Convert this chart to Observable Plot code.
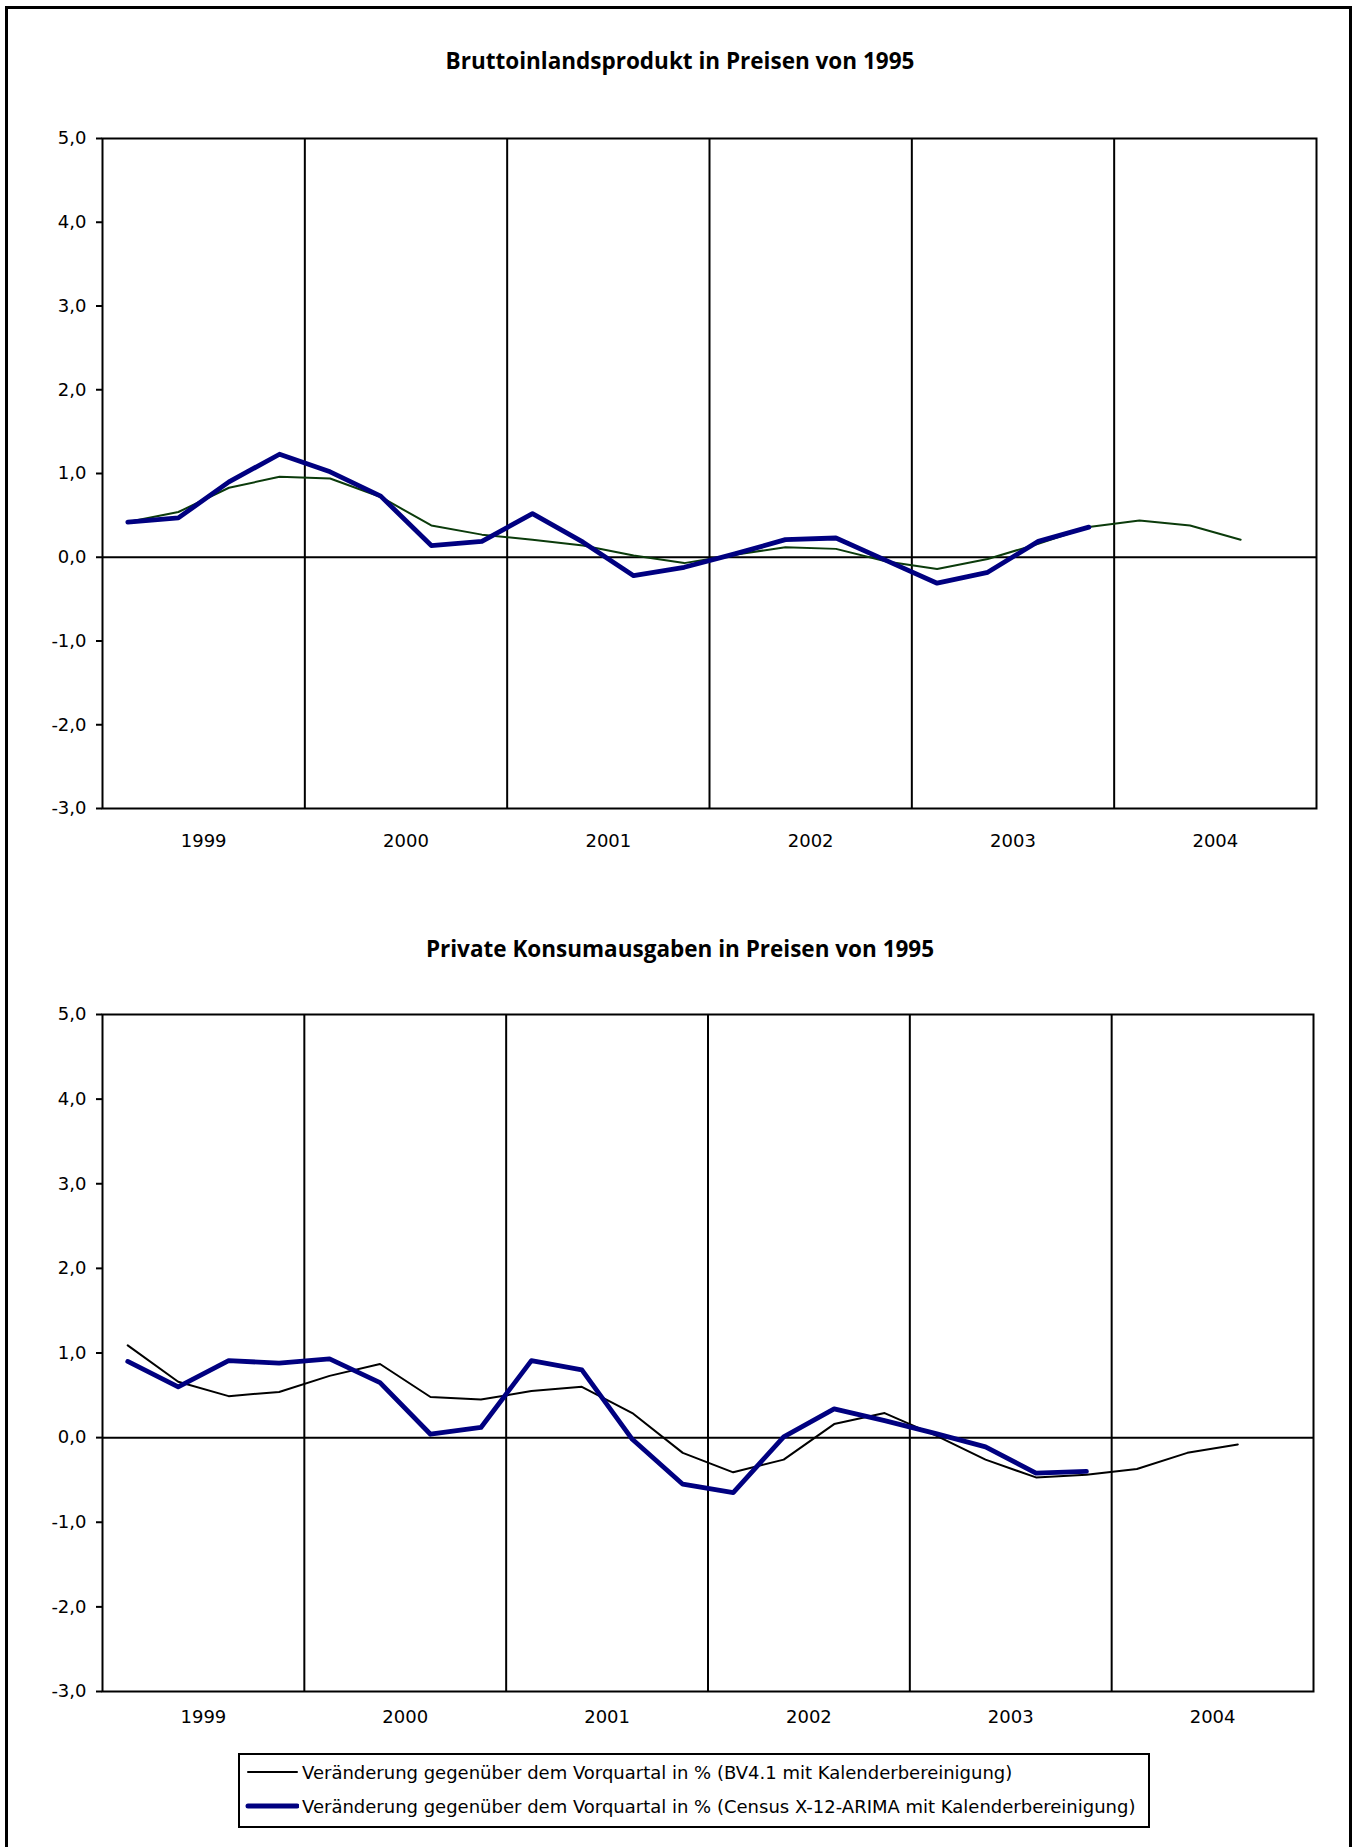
<!DOCTYPE html>
<html><head><meta charset="utf-8">
<script src="https://cdn.jsdelivr.net/npm/d3@7"></script>
<script src="https://cdn.jsdelivr.net/npm/@observablehq/plot@0.6"></script>
<style>
body{margin:0;background:#fff;}
#page{position:relative;width:1360px;height:1847px;overflow:hidden;background:#fff;}
#frame{position:absolute;left:5px;top:6px;width:1341px;height:1900px;border:3px solid #000;}
.title{position:absolute;left:0;width:1360px;text-align:center;font-family:"Open Sans";font-weight:bold;font-size:22.5px;line-height:26px;color:#000;}
.chart{position:absolute;left:0;}
.chart svg{color:#000;}
#legend{position:absolute;left:238px;top:1753px;width:908px;height:71px;border:2px solid #000;font-family:"DejaVu Sans";font-size:18px;color:#000;}
.row{position:absolute;left:5px;height:24px;display:flex;align-items:center;white-space:nowrap;}
.row svg{margin-right:3px;}
</style></head>
<body>
<div id="page">
  <div id="frame"></div>
  <div class="title" id="t1" style="top:48px;"></div>
  <div class="chart" id="c1" style="top:100px;"></div>
  <div class="title" id="t2" style="top:936px;"></div>
  <div class="chart" id="c2" style="top:980px;"></div>
  <div id="legend"></div>
</div>
<script>
// ---- data ----
const years = [1999, 2000, 2001, 2002, 2003, 2004];
const quarterNames = ["Q1", "Q2", "Q3", "Q4"];
const yTicks = [-3, -2, -1, 0, 1, 2, 3, 4, 5];
const titleBIP = "Bruttoinlandsprodukt in Preisen von 1995";
const titlePK = "Private Konsumausgaben in Preisen von 1995";
const seriesNames = [
  "Veränderung gegenüber dem Vorquartal in % (BV4.1 mit Kalenderbereinigung)",
  "Veränderung gegenüber dem Vorquartal in % (Census X-12-ARIMA mit Kalenderbereinigung)"
];
// Bruttoinlandsprodukt, quarters from 1999 Q1
const bipBV41 = [0.42, 0.54, 0.83, 0.96, 0.94, 0.72, 0.38, 0.27, 0.21, 0.14, 0.02, -0.07,
                 0.03, 0.12, 0.10, -0.05, -0.14, -0.02, 0.16, 0.36, 0.44, 0.38, 0.21];
const bipX12  = [0.42, 0.47, 0.90, 1.23, 1.02, 0.73, 0.14, 0.19, 0.52, 0.18, -0.22, -0.12,
                 0.04, 0.21, 0.23, -0.04, -0.31, -0.18, 0.19, 0.36];
// Private Konsumausgaben, quarters from 1999 Q1
const pkBV41 = [1.09, 0.66, 0.49, 0.54, 0.73, 0.87, 0.48, 0.45, 0.55, 0.60, 0.29, -0.18,
                -0.41, -0.26, 0.16, 0.29, 0.03, -0.26, -0.47, -0.44, -0.37, -0.18, -0.08];
const pkX12  = [0.90, 0.60, 0.91, 0.88, 0.93, 0.65, 0.04, 0.12, 0.91, 0.80, -0.02, -0.55,
                -0.65, 0.01, 0.34, 0.20, 0.05, -0.11, -0.42, -0.40];

const colorBlue = "#000080";

function toSeries(values) {
  return values.map((v, i) => ({
    t: years[0] + Math.floor(i / 4) + (i % 4 + 0.5) / 4,
    q: years[0] + Math.floor(i / 4) + " " + quarterNames[i % 4],
    v
  }));
}

function chart({bv, x12, bvColor, height, marginTop, marginBottom, marginRight, xPad}) {
  return Plot.plot({
    width: 1360, height, marginLeft: 102, marginRight, marginTop, marginBottom,
    style: {fontFamily: "DejaVu Sans", fontSize: "18px", color: "#000", background: "transparent"},
    x: {domain: [years[0], years[years.length - 1] + 1]},
    y: {domain: [yTicks[0], yTicks[yTicks.length - 1]]},
    marks: [
      Plot.ruleX(years.slice(1), {stroke: "#000", strokeWidth: 2}),
      Plot.ruleY([0], {stroke: "#000", strokeWidth: 2}),
      Plot.line(toSeries(bv), {x: "t", y: "v", stroke: bvColor, strokeWidth: 2}),
      Plot.line(toSeries(x12), {x: "t", y: "v", stroke: colorBlue, strokeWidth: 4.8}),
      Plot.frame({stroke: "#000", strokeWidth: 2}),
      Plot.axisY(yTicks, {tickSize: 6, tickPadding: 10, strokeWidth: 2, fontSize: 18,
        tickFormat: d => d.toFixed(1).replace(".", ","), label: null}),
      Plot.axisX(years.map(y => y + 0.5), {tickSize: 0, tickPadding: xPad, fontSize: 18,
        tickFormat: d => String(Math.floor(d)), label: null})
    ]
  });
}

document.getElementById("t1").textContent = titleBIP;
document.getElementById("t2").textContent = titlePK;

document.getElementById("c1").appendChild(chart({
  bv: bipBV41, x12: bipX12, bvColor: "#0b3b0b",
  height: 780, marginTop: 38, marginBottom: 72, marginRight: 44, xPad: 26
}));
document.getElementById("c2").appendChild(chart({
  bv: pkBV41, x12: pkX12, bvColor: "#000",
  height: 760, marginTop: 34, marginBottom: 49, marginRight: 47, xPad: 19
}));

// legend
const legend = document.getElementById("legend");
const legendStyles = [{color: "#000", w: 2, top: 5}, {color: colorBlue, w: 5, top: 39}];
seriesNames.forEach((name, i) => {
  const s = legendStyles[i];
  const row = document.createElement("div");
  row.className = "row";
  row.style.top = s.top + "px";
  row.innerHTML = `<svg width="54" height="10"><line x1="3" x2="52" y1="5" y2="5" stroke="${s.color}" stroke-width="${s.w}" stroke-linecap="round"/></svg><span></span>`;
  row.querySelector("span").textContent = name;
  legend.appendChild(row);
});
</script>
</body></html>
